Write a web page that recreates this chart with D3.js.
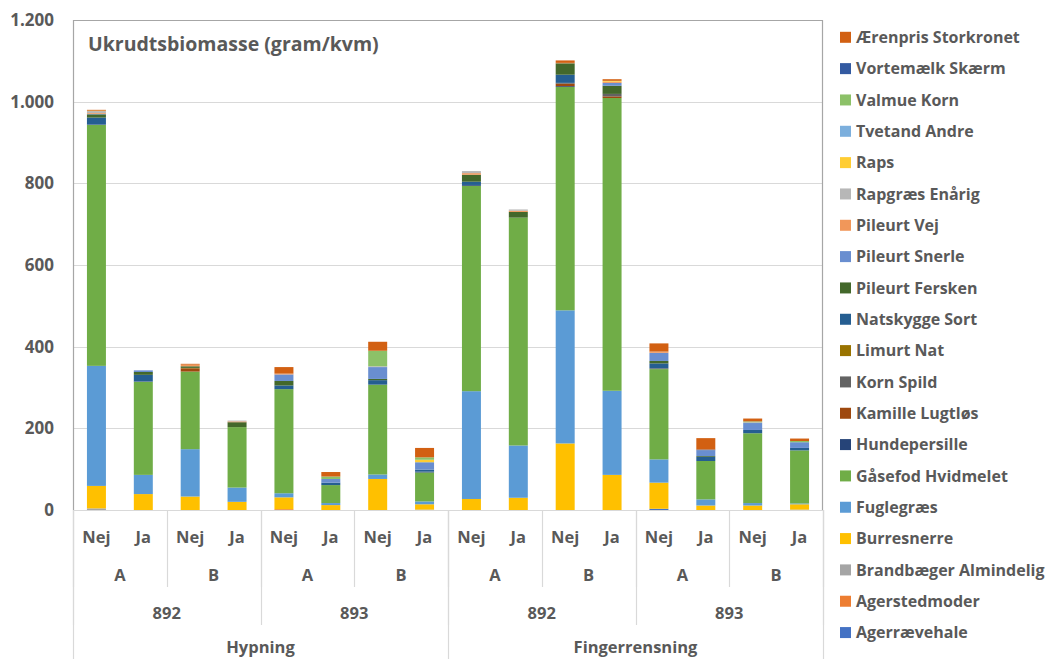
<!DOCTYPE html>
<html>
<head>
<meta charset="utf-8">
<script src="https://cdn.jsdelivr.net/npm/d3@7"></script>
<style>
  html, body { margin: 0; padding: 0; background: #fff; }
  svg { display: block; font-family: "Open Sans", "Liberation Sans", sans-serif; font-weight: 700; }
</style>
</head>
<body>
<svg id="chart" width="1050" height="659"></svg>
<script>
// Category hierarchy for the 16 stacked bars
const metode = ["Hypning", "Fingerrensning"];
const sort = ["892", "893"];
const blok = ["A", "B"];
const behandling = ["Nej", "Ja"];

// Y axis ticks
const yTicks = [0, 200, 400, 600, 800, 1000, 1200];

// Species (stack order bottom to top) and colours
const arter = [
  "Agerrævehale", "Agerstedmoder", "Brandbæger Almindelig", "Burresnerre", "Fuglegræs",
  "Gåsefod Hvidmelet", "Hundepersille", "Kamille Lugtløs", "Korn Spild", "Limurt Nat",
  "Natskygge Sort", "Pileurt Fersken", "Pileurt Snerle", "Pileurt Vej", "Rapgræs Enårig",
  "Raps", "Tvetand Andre", "Valmue Korn", "Vortemælk Skærm", "Ærenpris Storkronet"
];
const farver = [
  "#4472C4", "#ED7D31", "#A5A5A5", "#FFC000", "#5B9BD5",
  "#70AD47", "#264478", "#9E480E", "#636363", "#997300",
  "#255E91", "#43682B", "#698ED0", "#F1975A", "#B7B7B7",
  "#FFCD33", "#7CAFDD", "#8CC168", "#335AA1", "#D26012"
];

// Biomass (gram/kvm) per species, one value per bar
const agerraevehale        = [0, 0, 0, 0,   0, 0, 0, 0,   0, 0, 0, 0,   3, 0, 0, 0];
const agerstedmoder        = [0, 0, 0, 0,   2, 0, 0, 0,   0, 0, 0, 0,   0, 0, 0, 0];
const brandbaeger          = [4, 0, 0, 0,   0, 0, 0, 1,   0, 0, 0, 0,   0, 0, 0, 1];
const burresnerre          = [55, 39, 33, 20,   29, 12, 76, 13,   27, 30, 163, 86,   64, 11, 11, 13];
const fuglegraes           = [294, 47, 116, 35,   10, 5, 11, 7,   264, 128, 326, 206,   57, 15, 6, 2];
const gaasefod             = [590, 228, 190, 148,   255, 44, 220, 71,   503, 558, 547, 717,   221, 94, 171, 130];
const hundepersille        = [1, 1, 0, 0,   0, 0, 0, 2,   2, 0, 2, 0,   0, 0, 0, 0];
const kamille              = [0, 0, 8, 0,   0, 0, 0, 0,   0, 0, 6, 4,   0, 0, 0, 0];
const kornSpild            = [0, 0, 0, 0,   0, 0, 0, 0,   0, 0, 2, 6,   2, 0, 0, 0];
const limurt               = [0, 0, 1, 0,   0, 0, 0, 0,   0, 0, 0, 0,   0, 0, 0, 0];
const natskygge            = [17, 16, 0, 0,   9, 6, 11, 5,   8, 0, 20, 0,   12, 10, 8, 6];
const pileurtFersken       = [8, 7, 4, 12,   11, 0, 3, 0,   17, 14, 28, 20,   6, 2, 0, 0];
const pileurtSnerle        = [1, 4, 0, 0,   16, 9, 29, 18,   0, 0, 0, 7,   20, 14, 17, 14];
const pileurtVej           = [2, 0, 4, 2,   2, 0, 0, 0,   4, 3, 1, 3,   3, 0, 0, 0];
const rapgraes             = [5, 0, 0, 2,   0, 0, 2, 0,   5, 3, 0, 0,   0, 0, 2, 0];
const raps                 = [1, 0, 0, 0,   0, 0, 0, 6,   0, 0, 0, 2,   0, 0, 0, 0];
const tvetand              = [0, 0, 0, 0,   0, 0, 0, 0,   0, 0, 0, 0,   0, 0, 0, 0];
const valmue               = [0, 0, 0, 0,   0, 6, 38, 6,   0, 0, 0, 0,   0, 0, 2, 3];
const vortemaelk           = [0, 0, 0, 0,   0, 0, 0, 0,   0, 0, 0, 0,   0, 2, 0, 0];
const aerenpris            = [2, 0, 2, 0,   16, 11, 22, 23,   0, 0, 6, 4,   20, 28, 7, 6];

const serier = [
  agerraevehale, agerstedmoder, brandbaeger, burresnerre, fuglegraes,
  gaasefod, hundepersille, kamille, kornSpild, limurt,
  natskygge, pileurtFersken, pileurtSnerle, pileurtVej, rapgraes,
  raps, tvetand, valmue, vortemaelk, aerenpris
];

// Build the flat list of bars from the hierarchy
const bars = [];
metode.forEach(m => sort.forEach(s => blok.forEach(b => behandling.forEach(t => {
  bars.push({ id: bars.length, metode: m, sort: s, blok: b, behandling: t });
}))));
bars.forEach((d, i) => arter.forEach((a, k) => { d[a] = serier[k][i]; }));

const svg = d3.select("#chart");
const textColor = "#595959";
const plot = { left: 73, right: 823, top: 20, bottom: 510 };

const x = d3.scaleBand()
  .domain(bars.map(d => d.id))
  .range([plot.left, plot.right])
  .paddingInner(0.595)
  .paddingOuter(0.2975);

const y = d3.scaleLinear().domain([0, 1200]).range([plot.bottom, plot.top]);

const locale = d3.formatLocale({ decimal: ",", thousands: ".", grouping: [3], currency: ["", " kr."] });
const fmt = locale.format(",d");

// Gridlines
svg.append("g")
  .selectAll("line")
  .data(yTicks)
  .join("line")
  .attr("x1", plot.left).attr("x2", plot.right)
  .attr("y1", d => Math.round(y(d)) + 0.5).attr("y2", d => Math.round(y(d)) + 0.5)
  .attr("stroke", "#D9D9D9").attr("stroke-width", 1.2);

// Stacked bars
const stack = d3.stack().keys(arter);
const layers = stack(bars);
svg.append("g")
  .selectAll("g")
  .data(layers)
  .join("g")
  .attr("fill", (d, i) => farver[i])
  .selectAll("rect")
  .data(d => d)
  .join("rect")
  .attr("x", d => x(d.data.id))
  .attr("width", x.bandwidth())
  .attr("y", d => y(d[1]))
  .attr("height", d => Math.max(0, y(d[0]) - y(d[1])));

// Plot frame (top, left, right)
svg.append("path")
  .attr("d", `M${plot.left + 0.5},${plot.bottom} V${plot.top + 0.5} H${plot.right - 0.5} V${plot.bottom}`)
  .attr("fill", "none").attr("stroke", "#A6A6A6").attr("stroke-width", 1.2);

// Y axis labels
const yAxis = d3.axisLeft(y).tickValues(yTicks).tickFormat(fmt).tickSize(0).tickPadding(19);
const yg = svg.append("g").attr("transform", `translate(${plot.left},0)`).call(yAxis);
yg.select(".domain").remove();
yg.selectAll("text")
  .attr("fill", textColor)
  .style("font-size", "17px")
  .style("font-family", "'Open Sans', sans-serif")
  .style("font-weight", 700);

// Multi-level category axis
const catG = svg.append("g");
catG.append("line")
  .attr("x1", plot.left).attr("x2", plot.right)
  .attr("y1", plot.bottom + 0.5).attr("y2", plot.bottom + 0.5)
  .attr("stroke", "#D9D9D9").attr("stroke-width", 1.2);

const step = x.step();
const edge = i => plot.left + i * step;
const levels = [
  { size: 1,  textY: 537, lineEnd: null },
  { size: 2,  textY: 575, lineEnd: 587 },
  { size: 4,  textY: 613, lineEnd: 625 },
  { size: 8,  textY: 647, lineEnd: 659 }
];
const labelOf = [d => d.behandling, d => d.blok, d => d.sort, d => d.metode];

levels.forEach((lv, li) => {
  const groups = d3.range(0, bars.length, lv.size);
  catG.append("g")
    .selectAll("text")
    .data(groups)
    .join("text")
    .attr("x", i => (edge(i) + edge(i + lv.size)) / 2)
    .attr("y", lv.textY)
    .attr("dy", "0.35em")
    .attr("text-anchor", "middle")
    .attr("fill", textColor)
    .style("font-size", "16.5px")
    .text(i => labelOf[li](bars[i]));
  if (lv.lineEnd !== null) {
    const bounds = d3.range(0, bars.length + 1, lv.size);
    catG.append("g")
      .selectAll("line")
      .data(bounds)
      .join("line")
      .attr("x1", i => Math.round(edge(i)) + 0.5)
      .attr("x2", i => Math.round(edge(i)) + 0.5)
      .attr("y1", plot.bottom)
      .attr("y2", lv.lineEnd)
      .attr("stroke", "#D9D9D9").attr("stroke-width", 1.2);
  }
});

// Title inside the plot area
svg.append("text")
  .attr("x", 88).attr("y", 51)
  .attr("fill", textColor)
  .style("font-size", "19.5px")
  .text("Ukrudtsbiomasse (gram/kvm)");

// Legend (top of stack listed first)
const legendItems = arter.map((a, i) => ({ navn: a, farve: farver[i] })).reverse();
const lg = svg.append("g")
  .selectAll("g")
  .data(legendItems)
  .join("g")
  .attr("transform", (d, i) => `translate(840,${37.3 + i * 31.33})`);
lg.append("rect")
  .attr("x", 0).attr("y", -5.5).attr("width", 11).attr("height", 11)
  .attr("fill", d => d.farve);
lg.append("text")
  .attr("x", 16).attr("dy", "0.35em")
  .attr("fill", textColor)
  .style("font-size", "16px")
  .text(d => d.navn);
</script>
</body>
</html>
